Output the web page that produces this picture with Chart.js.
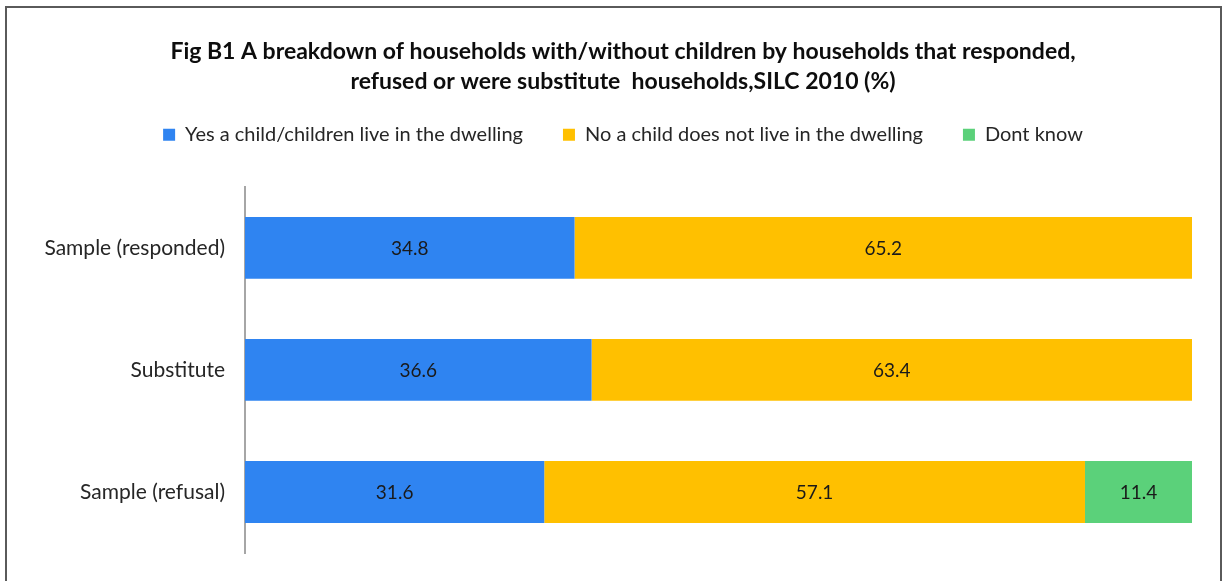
<!DOCTYPE html>
<html>
<head>
<meta charset="utf-8">
<script src="https://cdn.jsdelivr.net/npm/chart.js@4"></script>
<style>
  body { margin: 0; background: #fff; }
  #frame {
    position: absolute; left: 5px; top: 6px;
    width: 1213px; height: 600px;
    border: 2px solid #5a5a5a;
  }
  #wrap { position: absolute; left: 0; top: 0; width: 1227px; height: 581px; }
</style>
</head>
<body>
<div id="frame"></div>
<div id="wrap"><canvas id="childChart" width="1227" height="581"></canvas></div>
<script>
const categories = ['Sample (responded)', 'Substitute', 'Sample (refusal)'];
const yesChild = [34.8, 36.6, 31.6];
const noChild = [65.2, 63.4, 57.1];
const dontKnow = [null, null, 11.4];
const titleLines = [
  'Fig B1 A breakdown of households with/without children by households that responded,',
  'refused or were substitute  households,SILC 2010 (%)'
];

const FONT = 'Lato, "Open Sans", sans-serif';

// writes the value in the middle of each bar segment
const barValues = {
  id: 'barValues',
  afterDatasetsDraw(chart) {
    const ctx = chart.ctx;
    ctx.save();
    ctx.font = '19px ' + FONT;
    ctx.fillStyle = '#1a1a1a';
    ctx.textAlign = 'center';
    ctx.textBaseline = 'middle';
    chart.data.datasets.forEach((ds, i) => {
      chart.getDatasetMeta(i).data.forEach((bar, j) => {
        const v = ds.data[j];
        if (v == null) return;
        const { x, y, base } = bar.getProps(['x', 'y', 'base'], true);
        const right = Math.min(x, chart.chartArea.right);
        ctx.fillText(v.toFixed(1), (right + base) / 2, y + 1);
      });
    });
    ctx.restore();
  }
};

// extra space between legend and plot
const legendGap = {
  id: 'legendGap',
  beforeInit(chart) {
    const fit = chart.legend.fit;
    chart.legend.fit = function () {
      fit.bind(chart.legend)();
      this.height += 32;
    };
  }
};

new Chart(document.getElementById('childChart').getContext('2d'), {
  type: 'bar',
  data: {
    labels: categories,
    datasets: [
      { label: 'Yes a child/children live in the dwelling', data: yesChild, backgroundColor: '#2f84f1' },
      { label: 'No a child does not live in the dwelling', data: noChild, backgroundColor: '#ffc000' },
      { label: 'Dont know', data: dontKnow, backgroundColor: '#5bd17a' }
    ]
  },
  options: {
    indexAxis: 'y',
    responsive: false,
    animation: false,
    events: [],
    datasets: {
      bar: { barPercentage: 1, categoryPercentage: 0.507 }
    },
    layout: { padding: { left: 54, right: 35, bottom: 28, top: 0 } },
    scales: {
      x: {
        stacked: true,
        min: 0,
        max: 100,
        display: false
      },
      y: {
        stacked: true,
        grid: { display: false, drawTicks: false },
        border: { display: true, color: '#a6a6a6', width: 2 },
        ticks: {
          padding: 20,
          color: '#262626',
          font: { family: FONT, size: 21 }
        },
        afterFit(scale) {
          scale.width = 191;
          scale.paddingTop = 0;
          scale.paddingBottom = 0;
          // long category names run past the left edge of the axis box
          scale._computeLabelArea = () => undefined;
        }
      }
    },
    plugins: {
      title: {
        display: true,
        text: titleLines,
        color: '#0d0d0d',
        font: { family: FONT, size: 23, weight: 'bold', lineHeight: 1.3 },
        padding: { top: 37, bottom: -12 }
      },
      legend: {
        position: 'top',
        labels: {
          boxWidth: 12,
          boxHeight: 12,
          padding: 40,
          color: '#262626',
          font: { family: FONT, size: 20 }
        }
      },
      tooltip: { enabled: false }
    }
  },
  plugins: [barValues, legendGap]
});
</script>
</body>
</html>
